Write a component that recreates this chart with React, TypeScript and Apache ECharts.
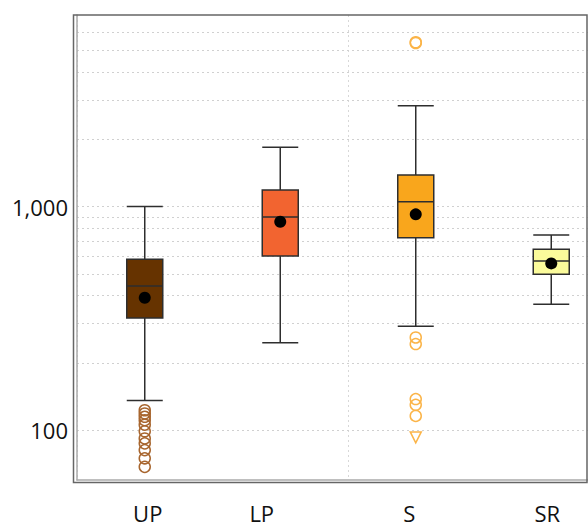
import React, { useEffect, useRef } from "react";
import * as echarts from "echarts";

const categories = ["UP", "LP", "S", "SR"];
// [lower whisker, Q1, median, Q3, upper whisker]
const boxUP = [136, 318, 441, 581, 1000];
const boxLP = [246, 601, 898, 1185, 1839];
const boxS = [292, 726, 1050, 1383, 2820];
const boxSR = [366, 498, 571, 644, 746];
const meanValues = [391, 855, 923, 557];
const boxColors = ["#663300", "#F26430", "#F9A61C", "#FBFB9B"];
const upOutliers = [123, 119, 115, 111, 106, 99, 92, 87.5, 81.6, 75, 68.7];
const sOutliers = [5420, 5380, 260, 243, 138, 130, 116];
const sTriangle = [93];
const gridLineValues = [100, 200, 300, 400, 500, 600, 700, 800, 900, 1000, 2000, 3000, 4000, 5000, 6000];
const yTickLabels = [100, 1000];

export default function App() {
  const ref = useRef<HTMLDivElement>(null);
  useEffect(() => {
    if (!ref.current) return;
    document.body.style.overflow = "hidden";
    const chart = echarts.init(ref.current, null, { renderer: "svg" });
    const boxes = [boxUP, boxLP, boxS, boxSR];
    const font = "'Open Sans', sans-serif";
    chart.setOption({
      animation: false,
      backgroundColor: "#ffffff",
      grid: { left: 77, top: 15, width: 542, height: 465, containLabel: false },
      xAxis: {
        type: "category",
        data: categories,
        boundaryGap: true,
        axisTick: { show: false },
        axisLine: { show: true, lineStyle: { color: "#aaaaaa", width: 1.5 } },
        splitLine: {
          show: true,
          interval: (idx: number) => idx === 0 || idx === 2,
          lineStyle: { color: "#d8d8d8", type: [2, 3], width: 1 },
        },
        axisLabel: {
          margin: 22,
          fontFamily: font,
          fontSize: 22,
          color: "#111111",
          formatter: (v: string) => `{${v}|${v}}`,
          rich: {
            UP: { fontFamily: font, fontSize: 22, color: "#111", padding: [0, 0, 0, 6] },
            LP: { fontFamily: font, fontSize: 22, color: "#111", padding: [0, 37, 0, 0] },
            S: { fontFamily: font, fontSize: 22, color: "#111", padding: [0, 13, 0, 0] },
            SR: { fontFamily: font, fontSize: 22, color: "#111", padding: [0, 8, 0, 0] },
          },
        },
      },
      yAxis: {
        type: "log",
        logBase: 10,
        min: 60,
        max: 7175,
        axisTick: { show: false },
        axisLine: { show: true, lineStyle: { color: "#aaaaaa", width: 1.5 } },
        splitLine: { show: false },
        axisLabel: {
          margin: 9,
          fontFamily: font,
          fontSize: 22,
          color: "#111111",
          showMinLabel: false,
          showMaxLabel: false,
          formatter: (v: number) => {
            const r = Math.round(v);
            return yTickLabels.includes(r) ? r.toLocaleString("en-US") : "";
          },
        },
      },
      series: [
        {
          type: "scatter",
          data: [],
          z: 1,
          silent: true,
          markLine: {
            silent: true,
            z: 0,
            symbol: "none",
            label: { show: false },
            lineStyle: { color: "#d0d0d0", type: [2, 3], width: 1 },
            data: gridLineValues.map((v) => ({ yAxis: v })),
          },
        },
        {
          type: "boxplot",
          z: 2,
          boxWidth: [36, 36],
          data: boxes.map((b, i) => ({
            value: b,
            itemStyle: { color: boxColors[i], borderColor: "#2e2e2e", borderWidth: 1.5 },
          })),
        },
        {
          type: "scatter",
          z: 3,
          symbol: "circle",
          symbolSize: 12,
          itemStyle: { color: "#000000", opacity: 1 },
          data: meanValues.map((v, i) => [i, v]),
        },
        {
          type: "scatter",
          z: 3,
          symbol: "circle",
          symbolSize: 11,
          itemStyle: { color: "rgba(0,0,0,0)", borderColor: "#A8662F", borderWidth: 1.5, opacity: 1 },
          data: upOutliers.map((v) => [0, v]),
        },
        {
          type: "scatter",
          z: 3,
          symbol: "circle",
          symbolSize: 11,
          itemStyle: { color: "rgba(0,0,0,0)", borderColor: "#FBB448", borderWidth: 1.5, opacity: 1 },
          data: sOutliers.map((v) => [2, v]),
        },
        {
          type: "scatter",
          z: 3,
          symbol: "triangle",
          symbolRotate: 180,
          symbolSize: 11,
          itemStyle: { color: "rgba(0,0,0,0)", borderColor: "#FBB448", borderWidth: 1.5, opacity: 1 },
          data: sTriangle.map((v) => [2, v]),
        },
      ],
      graphic: [
        {
          type: "rect",
          silent: true,
          z: 10,
          shape: { x: 73.5, y: 15, width: 513.5, height: 467.5 },
          style: { fill: "none", stroke: "#666666", lineWidth: 1.5 },
        },
        {
          type: "rect",
          silent: true,
          z: 10,
          shape: { x: 588, y: 0, width: 40, height: 529 },
          style: { fill: "#ffffff" },
        },
      ],
    });
    return () => chart.dispose();
  }, []);
  return (
    <div
      ref={ref}
      style={{ position: "fixed", left: 0, top: 0, width: 628, height: 529, background: "#fff" }}
    />
  );
}
